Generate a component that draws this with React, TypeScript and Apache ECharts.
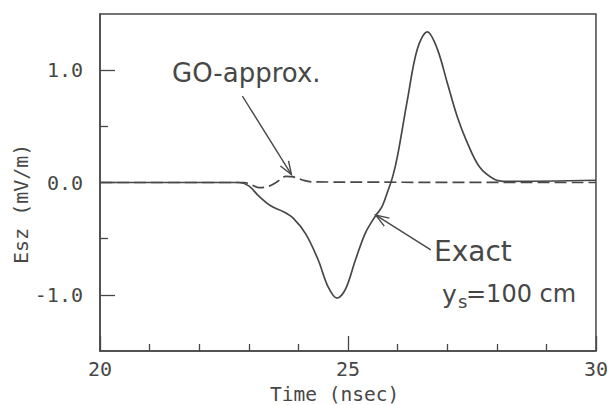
import React, { useEffect, useRef } from "react";
import * as echarts from "echarts";

// Exact solution (solid)
const EXACT_T = [20.0, 22.8, 23.0, 23.2, 23.45, 23.7, 23.9, 24.15, 24.4, 24.6, 24.78, 24.95, 25.15, 25.35, 25.55, 25.68, 25.8, 25.9, 26.0, 26.2, 26.4, 26.6, 26.8, 27.0, 27.2, 27.4, 27.65, 27.95, 28.2, 30.0];
const EXACT_E = [0, 0, -0.03, -0.12, -0.21, -0.26, -0.32, -0.46, -0.69, -0.93, -1.03, -0.95, -0.69, -0.45, -0.3, -0.22, -0.08, 0.05, 0.24, 0.74, 1.19, 1.34, 1.19, 0.89, 0.59, 0.36, 0.14, 0.03, 0.01, 0.02];
// GO approximation (dashed)
const GO_T = [20.0, 22.9, 23.05, 23.2, 23.35, 23.55, 23.75, 23.9, 24.1, 24.3, 30.0];
const GO_E = [0, 0, -0.02, -0.045, -0.04, 0.0, 0.055, 0.05, 0.02, 0.005, 0];

const X_MAJOR = [20, 25, 30];
const X_MINOR = [21, 22, 23, 24, 26, 27, 28, 29];
const Y_MAJOR = [-1, 0, 1];
const Y_MINOR = [-0.5, 0.5];

const INK = "#474747";
const MONO = "DejaVu Sans Mono";
const SANS = "DejaVu Sans";

export default function App() {
  const ref = useRef<HTMLDivElement>(null);
  useEffect(() => {
    if (!ref.current) return;
    const chart = echarts.init(ref.current, undefined, { renderer: "svg" });
    const xBase = { type: "value", min: 20, max: 30, position: "bottom", splitLine: { show: false } };
    const yBase = { type: "value", min: -1.5, max: 1.5, position: "left", splitLine: { show: false } };
    chart.setOption({
      animation: false,
      backgroundColor: "#fff",
      grid: { left: 100, right: 13, top: 14, bottom: 54, show: true, borderColor: INK, borderWidth: 1.5 },
      xAxis: [
        {
          ...xBase,
          axisLine: { show: true, onZero: false, lineStyle: { color: INK, width: 1.5 } },
          axisTick: { show: true, inside: true, length: 15, customValues: X_MAJOR, lineStyle: { color: INK, width: 1.3 } },
          axisLabel: { customValues: X_MAJOR, margin: 8, fontFamily: MONO, fontSize: 20, color: INK },
        },
        {
          ...xBase,
          axisLine: { show: false, onZero: false },
          axisTick: { show: true, inside: true, length: 7, customValues: X_MINOR, lineStyle: { color: INK, width: 1.3 } },
          axisLabel: { show: false },
        },
      ],
      yAxis: [
        {
          ...yBase,
          axisLine: { show: true, onZero: false, lineStyle: { color: INK, width: 1.5 } },
          axisTick: { show: true, inside: true, length: 15, customValues: Y_MAJOR, lineStyle: { color: INK, width: 1.3 } },
          axisLabel: { customValues: Y_MAJOR, margin: 17, fontFamily: MONO, fontSize: 20, color: INK, formatter: (v: number) => v.toFixed(1) },
        },
        {
          ...yBase,
          axisLine: { show: false, onZero: false },
          axisTick: { show: true, inside: true, length: 8, customValues: Y_MINOR, lineStyle: { color: INK, width: 1.3 } },
          axisLabel: { show: false },
        },
      ],
      series: [
        {
          name: "Exact",
          type: "line",
          data: EXACT_T.map((t, i) => [t, EXACT_E[i]]),
          smooth: 0.35,
          showSymbol: false,
          lineStyle: { color: INK, width: 1.7 },
        },
        {
          name: "GO-approx.",
          type: "line",
          data: GO_T.map((t, i) => [t, GO_E[i]]),
          smooth: 0.35,
          showSymbol: false,
          lineStyle: { color: INK, width: 1.7, type: [12, 5] },
        },
      ],
    });

    const px = (t: number, v: number) => chart.convertToPixel({ gridIndex: 0 }, [t, v]) as number[];
    const arrow = (tail: number[], head: number[]) => {
      const dx = head[0] - tail[0];
      const dy = head[1] - tail[1];
      const L = Math.hypot(dx, dy);
      const ux = dx / L, uy = dy / L;
      const a = (20 * Math.PI) / 180;
      const len = 14;
      const wing = (s: number) => {
        const c = Math.cos(s * a), sn = Math.sin(s * a);
        const rx = ux * c - uy * sn, ry = ux * sn + uy * c;
        return [head[0] - rx * len, head[1] - ry * len];
      };
      const ls = { stroke: INK, lineWidth: 1.4 };
      return [
        { type: "line", shape: { x1: tail[0], y1: tail[1], x2: head[0], y2: head[1] }, style: ls },
        { type: "polyline", shape: { points: [wing(1), head, wing(-1)] }, style: { ...ls, fill: "none" } },
      ];
    };
    const goTail = px(22.87, 0.77), goHead = px(23.86, 0.07);
    const exTail = px(26.67, -0.6), exHead = px(25.56, -0.29);

    chart.setOption({
      graphic: [
        ...arrow(goTail, goHead),
        ...arrow(exTail, exHead),
        { type: "text", left: 172, top: 60, style: { text: "GO-approx.", fontFamily: SANS, fontSize: 26, fill: INK } },
        { type: "text", left: 434, top: 237, style: { text: "Exact", fontFamily: SANS, fontSize: 28, fill: INK } },
        { type: "text", left: 442, top: 282, style: { text: "y", fontFamily: SANS, fontSize: 25, fill: INK } },
        { type: "text", left: 458, top: 292, style: { text: "s", fontFamily: SANS, fontSize: 18, fill: INK } },
        { type: "text", left: 466, top: 282, style: { text: "=100 cm", fontFamily: SANS, fontSize: 24, fill: INK } },
        { type: "text", left: 270, top: 384, style: { text: "Time (nsec)", fontFamily: MONO, fontSize: 19.5, fill: INK } },
        {
          type: "text",
          x: 11,
          y: 264,
          rotation: Math.PI / 2,
          style: { text: "Esz (mV/m)", fontFamily: MONO, fontSize: 20, fill: INK },
        },
      ],
    });
    return () => chart.dispose();
  }, []);
  return <div ref={ref} style={{ position: "fixed", left: 0, top: 0, width: 611, height: 405 }} />;
}
